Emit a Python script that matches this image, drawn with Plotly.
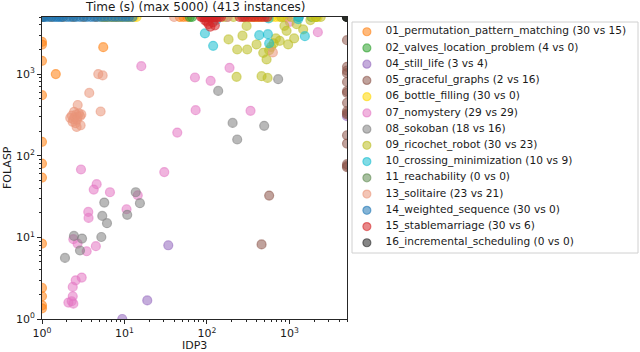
import numpy as np
import plotly.graph_objects as go

# IDP3 time vs FOLASP time per family (5000 = timeout)
idp3_01 = [1, 1, 1, 1, 1, 1, 1, 1, 1, 1, 1, 1, 1.47, 5.53,
           1, 1, 1.3, 1.8, 2.4, 3.2, 4.5, 6, 8, 47, 52, 58, 1, 1, 1, 1]
folasp_01 = [2480, 2300, 1452, 551, 148, 80, 54, 8.4, 2.4, 1.9, 1.47, 1.35, 1000, 2135,
             5000, 5000, 5000, 5000, 5000, 5000, 5000, 5000, 5000, 5000, 5000, 5000, 5000, 5000, 5000, 5000]

idp3_02 = [62, 66, 1850, 2100]
folasp_02 = [5000, 5000, 5000, 5000]

idp3_04 = [34, 18.9, 9.4, 5000]
folasp_04 = [8.0, 1.69, 1.0, 305]

idp3_05 = [460, 569] + [5000] * 16
folasp_05 = [8.2, 32.5, 2600, 1225, 1100, 1026, 802, 617, 590, 444, 351, 332, 320, 178, 141, 78.7, 75, 72.3]

idp3_06 = [5.3, 5.8, 6.2, 6.8, 7.4, 8.0, 8.8, 9.5, 10.5, 11.2, 12, 13, 14, 330, 360,
           390, 420, 460, 520, 560, 610, 680, 760, 850, 950, 2000, 2200, 5.6, 7.1, 9.1]
folasp_06 = [5000] * 30

idp3_07 = [16, 71.6, 111, 188, 73, 338, 2215, 43.7, 2.97, 30.4, 4.6, 4.24, 6.67, 14.5, 3.64,
           3.67, 10.6, 2.4, 2.7, 3.48, 4.5, 3.03, 2.56, 2.36, 2.36, 2.09, 2.29, 2.4, 1014, 5000]
folasp_07 = [1250, 908, 826, 1191, 361, 355, 3260, 192, 67.8, 63, 44.8, 38.5, 35.7, 32.8, 20.5,
             17.3, 22.1, 9.5, 8.4, 6.76, 7.8, 3.22, 2.98, 2.47, 1.9, 1.59, 1.65, 1.54, 4360, 5000]

idp3_08 = [137, 731, 205, 495, 233, 13.7, 15.4, 5.69, 5.38, 10.8, 6.14, 2.44, 3.06, 5.24, 2.89, 1.9, 175, 1300]
folasp_08 = [622, 866, 252, 232, 158, 35.7, 26.2, 26.7, 18.3, 18.9, 14.9, 10.4, 9.67, 10.1, 6.9, 5.6, 5000, 5000]

idp3_09 = [303, 183, 233, 308, 400, 482, 529, 569, 686, 764, 645, 925, 967, 1143, 1222,
           1470, 229, 460, 544, 1800, 870, 600, 270,
           160, 210, 280, 800, 1050, 2100, 2400]
folasp_09 = [3890, 2655, 2000, 2000, 2305, 1820, 1510, 1963, 2730, 2553, 2380, 3384, 2305, 2730, 4085,
             3520, 925, 942, 898, 4580, 3900, 2150, 2950,
             5000, 5000, 5000, 5000, 5000, 5000, 5000]

idp3_10 = [94.6, 119, 431, 549, 569, 1542, 130, 1279, 560, 1300]
folasp_10 = [3142, 2217, 2998, 3083, 2370, 2912, 4600, 4710, 4800, 5000]

idp3_11 = [5000, 5000, 5000]
folasp_11 = [5000, 5000, 5000]

idp3_13 = [2.5, 2.3, 2.4, 2.6, 2.7, 2.2, 2.8, 2.35, 2.55, 2.65, 2.45, 2.71, 2.63, 2.94, 2.9, 3.0,
           3.74, 5.14, 4.81, 5.44, 631, 40, 180]
folasp_13 = [296, 310, 280, 320, 300, 290, 330, 260, 250, 275, 345, 418, 225, 236, 305, 320,
             588, 348, 1000, 962, 1840, 5000, 5000]

idp3_14 = [1, 1.1, 1.2, 1.3, 1.4, 1.5, 1.6, 1.8, 2, 2.2, 2.4, 2.6, 2.9, 3.2, 3.5,
           3.9, 4.3, 4.7, 5.2, 5.7, 6.3, 7, 7.7, 8.5, 9.4, 10.3, 11.3, 12.5, 1.05, 1.7]
folasp_14 = [5000] * 30

idp3_15 = [100, 105, 110, 118, 95, 125,
           85, 88, 92, 96, 100, 104, 108, 112, 116, 120, 126, 132, 140, 148,
           250, 270, 290, 320, 350, 380, 420, 460, 500, 540]
folasp_15 = [4400, 4100, 3800, 4300, 4550, 3950] + [5000] * 24

idp3_16 = [5000, 5000, 5000]
folasp_16 = [5000, 5000, 5000]

labels = [
    "01_permutation_pattern_matching (30 vs 15)",
    "02_valves_location_problem (4 vs 0)",
    "04_still_life (3 vs 4)",
    "05_graceful_graphs (2 vs 16)",
    "06_bottle_filling (30 vs 0)",
    "07_nomystery (29 vs 29)",
    "08_sokoban (18 vs 16)",
    "09_ricochet_robot (30 vs 23)",
    "10_crossing_minimization (10 vs 9)",
    "11_reachability (0 vs 0)",
    "13_solitaire (23 vs 21)",
    "14_weighted_sequence (30 vs 0)",
    "15_stablemarriage (30 vs 6)",
    "16_incremental_scheduling (0 vs 0)",
]
colors = ["#ff7f0e", "#2ca02c", "#9467bd", "#8c564b", "#ffd700", "#e377c2", "#7f7f7f",
          "#bcbd22", "#17becf", "#5f8a50", "#e9967a", "#1f77b4", "#d62728", "#222222"]
xs = [idp3_01, idp3_02, idp3_04, idp3_05, idp3_06, idp3_07, idp3_08, idp3_09, idp3_10,
      idp3_11, idp3_13, idp3_14, idp3_15, idp3_16]
ys = [folasp_01, folasp_02, folasp_04, folasp_05, folasp_06, folasp_07, folasp_08, folasp_09,
      folasp_10, folasp_11, folasp_13, folasp_14, folasp_15, folasp_16]


def rgba(h, a):
    h = h.lstrip("#")
    return "rgba(%d,%d,%d,%.2f)" % (int(h[0:2], 16), int(h[2:4], 16), int(h[4:6], 16), a)


FONT = "DejaVu Sans"
fig = go.Figure()

for x, y, c in zip(xs, ys, colors):
    fig.add_trace(go.Scatter(
        x=x, y=y, mode="markers", showlegend=False, hoverinfo="skip",
        marker=dict(size=9, color=rgba(c, 0.55), line=dict(color=rgba(c, 0.55), width=1.2)),
        xaxis="x", yaxis="y"))

# legend drawn on a second, hidden axis
idx = list(range(len(labels)))
fig.add_trace(go.Scatter(
    x=[0.052] * len(labels), y=idx, mode="markers", showlegend=False, hoverinfo="skip",
    marker=dict(size=8, color=[rgba(c, 0.55) for c in colors],
                line=dict(color=[rgba(c, 0.55) for c in colors], width=1.2)),
    xaxis="x2", yaxis="y2"))
fig.add_trace(go.Scatter(
    x=[0.117] * len(labels), y=idx, mode="text", text=labels, textposition="middle right",
    showlegend=False, hoverinfo="skip", textfont=dict(family=FONT, size=10.6, color="#1a1a1a"),
    xaxis="x2", yaxis="y2"))

minor_vals = [k * 10 ** d for d in range(0, 4) for k in range(2, 10) if k * 10 ** d <= 5000]
major_vals = [1, 10, 100, 1000]
major_text = ["10<sup>0</sup>", "10<sup>1</sup>", "10<sup>2</sup>", "10<sup>3</sup>"]

axis_common = dict(
    type="log", range=[0, np.log10(5000)], showgrid=False, zeroline=False,
    showline=True, linecolor="#262626", linewidth=1, mirror=True,
    ticks="outside", ticklen=4, tickwidth=1, tickcolor="#262626",
    tickvals=major_vals, ticktext=major_text,
    tickfont=dict(family=FONT, size=11, color="#1a1a1a"),
    minor=dict(ticks="outside", ticklen=2, tickwidth=0.8, tickcolor="#262626",
               tickvals=minor_vals, showgrid=False),
)

fig.update_layout(
    width=640, height=352,
    margin=dict(l=42, r=2, t=17, b=33),
    paper_bgcolor="white", plot_bgcolor="white",
    xaxis=dict(domain=[0, 305 / 596], anchor="y", **axis_common),
    yaxis=dict(domain=[0, 1], anchor="x", **axis_common),
    xaxis2=dict(domain=[310 / 596, 1], range=[0, 1], visible=False, anchor="y2"),
    yaxis2=dict(domain=[66 / 302, 297 / 302], range=[13.63, -0.6], visible=False, anchor="x2"),
    font=dict(family=FONT, size=11, color="#1a1a1a"),
    shapes=[dict(type="rect", xref="x2 domain", yref="y2 domain", x0=0, x1=1, y0=0, y1=1,
                 line=dict(color="#d0d0d0", width=1), layer="below")],
    annotations=[
        dict(text="Time (s) (max 5000) (413 instances)", xref="x domain", yref="paper",
             x=0.5, y=1, xanchor="center", yanchor="bottom", yshift=1, showarrow=False,
             font=dict(family=FONT, size=12, color="#1a1a1a")),
        dict(text="IDP3", xref="x domain", yref="paper", x=0.5, y=-27 / 302,
             xanchor="center", yanchor="middle", showarrow=False,
             font=dict(family=FONT, size=11, color="#1a1a1a")),
        dict(text="FOLASP", xref="paper", yref="paper", x=-35 / 596, y=0.5, textangle=-90,
             xanchor="center", yanchor="middle", showarrow=False,
             font=dict(family=FONT, size=11, color="#1a1a1a")),
    ],
)

# drop the browser's default 8px body margin so the figure fills the window
fig.write_html("out.html", config={"displayModeBar": False},
               post_script="document.body.style.margin='0';")
